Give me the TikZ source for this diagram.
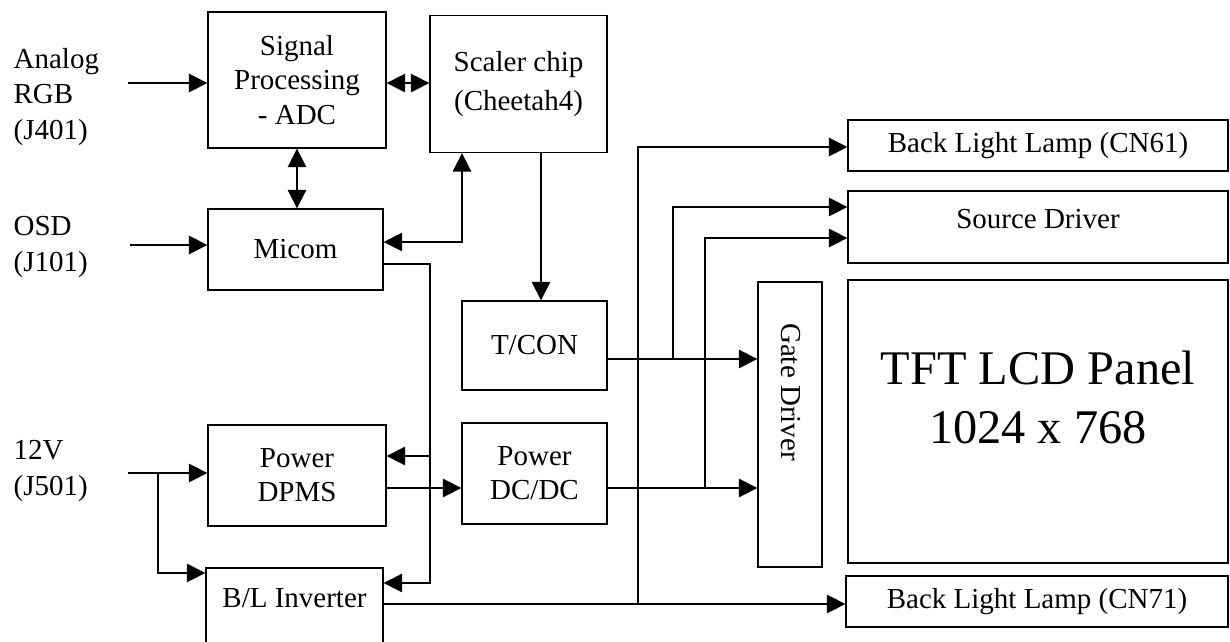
\documentclass[tikz,border=0pt]{standalone}
\usepackage{fontspec}
\setmainfont{Liberation Serif}
\usetikzlibrary{arrows.meta}

\begin{document}
\begin{tikzpicture}[
  x=0.02cm,
  y=-0.02cm,
  >={Triangle[length=0.37cm,width=0.37cm]},
  line width=0.75pt,
  every node/.style={font=\fontsize{16.5}{19.5}\selectfont},
  blk/.style={draw, rectangle, line width=0.75pt, inner sep=0pt, align=center},
  inlbl/.style={anchor=west, align=left, inner sep=0pt, font=\fontsize{16.5}{20}\selectfont}
]
\useasboundingbox (0,0) rectangle (1230,642);
\clip (0,0) rectangle (1230,642);

% input labels
\node[inlbl] (ana) at (13,97) {Analog\\RGB\\(J401)};
\node[inlbl] (osd) at (13,247) {OSD\\(J101)};
\node[inlbl] (pwr) at (13,471) {12V\\(J501)};

% blocks
\node[blk, minimum width=3.56cm, minimum height=2.72cm] (sig) at (297,80) {Signal\\Processing\\- ADC};
\node[blk, minimum width=3.54cm, minimum height=2.74cm] (scal) at (518.5,84) {Scaler chip\\[3pt](Cheetah4)};
\node[blk, minimum width=3.50cm, minimum height=1.62cm] (micom) at (295.5,249.5) {Micom};
\node[blk, minimum width=2.90cm, minimum height=1.78cm] (tcon) at (534.5,345.5) {T/CON};
\node[blk, minimum width=2.90cm, minimum height=2.02cm] (dcdc) at (534.5,473.5) {Power\\DC/DC};
\node[blk, minimum width=3.56cm, minimum height=2.02cm] (dpms) at (297,475.5) {Power\\DPMS};
\node[blk, minimum width=3.54cm, minimum height=1.84cm,
  label={[yshift=0.32cm]center:B/L Inverter}] (blinv) at (294.5,614) {};
\node[blk, minimum width=1.28cm, minimum height=5.70cm] (gate) at (790,424.5) {};
\node[rotate=-90] (gatetxt) at (791,392) {Gate Driver};

% panel side
\node[blk, minimum width=7.60cm, minimum height=1.02cm] (cn61) at (1038,145.5) {Back Light Lamp (CN61)};
\node[blk, minimum width=7.60cm, minimum height=1.44cm,
  label={[yshift=0.16cm]center:Source Driver}] (src) at (1038,227) {};
\node[blk, minimum width=7.60cm, minimum height=5.66cm,
  label={[yshift=0.48cm, align=center, font=\fontsize{27.5}{33.6}\selectfont]center:TFT LCD Panel\\1024 x 768}] (tft) at (1038,421.5) {};
\node[blk, minimum width=7.64cm, minimum height=1.02cm] (cn71) at (1037,601.5) {Back Light Lamp (CN71)};

% free ends and corners
\coordinate (anaIn) at (128,83);
\coordinate (osdIn) at (130,245);
\coordinate (pwrIn) at (128,473);
\coordinate (pj) at (158,473);
\coordinate (pb) at (158,573);
\coordinate (sm) at (462,242);
\coordinate (mj) at (430,264);
\coordinate (mb) at (430,583);
\coordinate (dj) at (430,456);
\coordinate (sd) at (541,0);
\coordinate (tj) at (673,359);
\coordinate (tk) at (673,207);
\coordinate (pw) at (705,488);
\coordinate (dk) at (705,238);
\coordinate (bj) at (638,604);
\coordinate (bk) at (638,147);

% signal path
\draw[->] (anaIn) -- (anaIn -| sig.west);
\draw[<->] (sig.east |- anaIn) -- (scal.west |- anaIn);
\draw[<->] (sig.south) -- (sig.south |- micom.north);
\draw[<->] (micom.east |- sm) -- (sm) -- (sm |- scal.south);
\draw[->] (osdIn) -- (osdIn -| micom.west);
\draw[->] (scal.south -| sd) -- (tcon.north -| sd);
\draw[->] (tcon.east |- tj) -- (gate.west |- tj);
\draw[->] (tj) -- (tk) -- (tk -| src.west);

% power path
\draw[->] (pwrIn) -- (pwrIn -| dpms.west);
\draw[->] (pj) -- (pb) -- (pb -| blinv.west);
\draw[->] (micom.east |- mj) -- (mj) -- (mb) -- (mb -| blinv.east);
\draw[->] (dj) -- (dj -| dpms.east);
\draw[->] (dpms.east |- pw) -- (dcdc.west |- pw);
\draw[->] (dcdc.east |- pw) -- (gate.west |- pw);
\draw[->] (pw) -- (dk) -- (dk -| src.west);
\draw[->] (blinv.east |- bj) -- (bj -| cn71.west);
\draw[->] (bj) -- (bk) -- (bk -| cn61.west);
\end{tikzpicture}
\end{document}
